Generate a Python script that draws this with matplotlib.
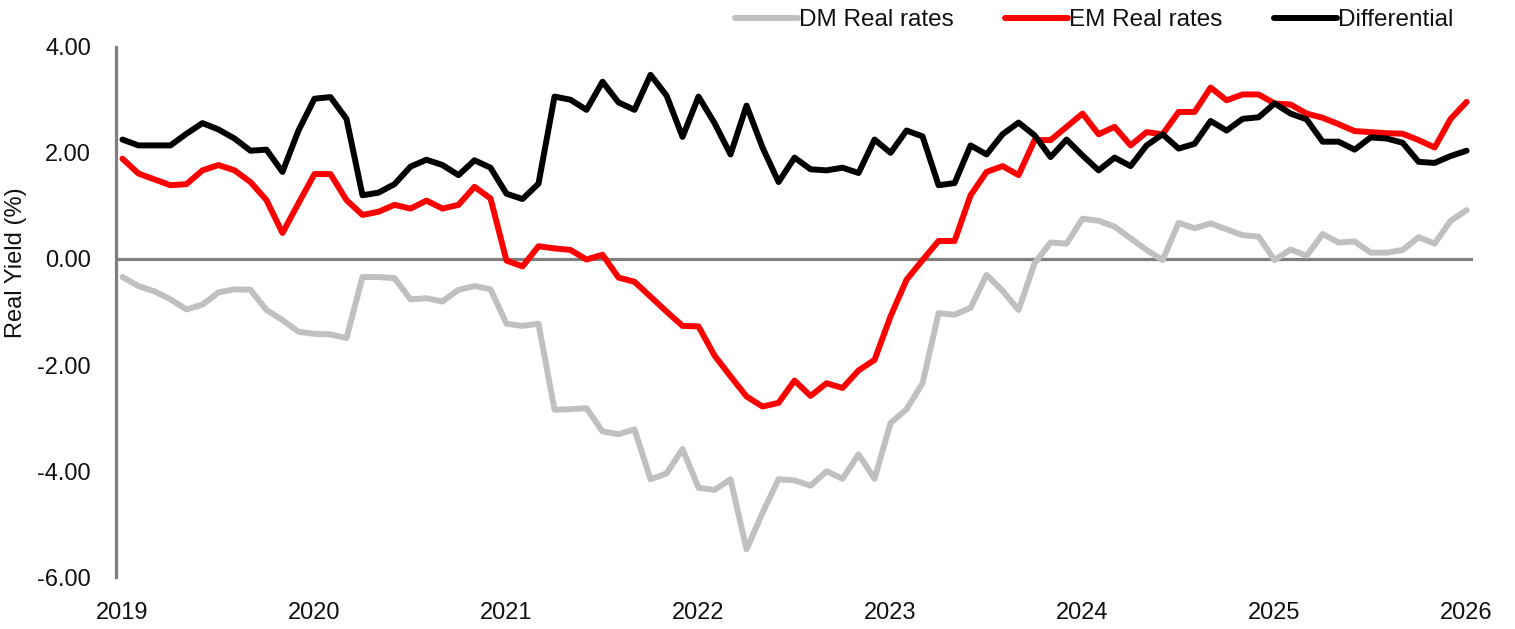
import numpy as np
import matplotlib
matplotlib.use("Agg")
import matplotlib.pyplot as plt

# ---- data (monthly, Jan 2019 .. Jan 2026) ----
years = ["2019", "2020", "2021", "2022", "2023", "2024", "2025", "2026"]

dm_real = [-0.34, -0.51, -0.61, -0.76, -0.95, -0.86, -0.63, -0.57, -0.58, -0.96,
           -1.15, -1.37, -1.41, -1.42, -1.49, -0.34, -0.34, -0.36, -0.76, -0.74,
           -0.80, -0.58, -0.51, -0.57, -1.22, -1.26, -1.22, -2.84, -2.83, -2.81,
           -3.25, -3.30, -3.21, -4.15, -4.04, -3.58, -4.31, -4.35, -4.15, -5.47,
           -4.78, -4.15, -4.17, -4.27, -4.00, -4.14, -3.68, -4.14, -3.09, -2.83,
           -2.34, -1.02, -1.05, -0.92, -0.30, -0.60, -0.96, -0.08, 0.31, 0.29,
           0.76, 0.72, 0.61, 0.39, 0.17, -0.02, 0.68, 0.58, 0.67, 0.56,
           0.45, 0.42, -0.02, 0.18, 0.06, 0.47, 0.31, 0.33, 0.12, 0.12,
           0.17, 0.41, 0.29, 0.72, 0.92]

em_real = [1.89, 1.61, 1.50, 1.39, 1.41, 1.67, 1.77, 1.67, 1.45, 1.11,
           0.49, 1.05, 1.60, 1.60, 1.11, 0.83, 0.89, 1.02, 0.95, 1.10,
           0.95, 1.02, 1.36, 1.14, -0.03, -0.14, 0.24, 0.20, 0.17, -0.01,
           0.08, -0.35, -0.43, -0.71, -0.99, -1.26, -1.27, -1.82, -2.21, -2.59,
           -2.78, -2.71, -2.29, -2.58, -2.34, -2.43, -2.10, -1.90, -1.08, -0.39,
           -0.02, 0.34, 0.34, 1.20, 1.64, 1.75, 1.58, 2.24, 2.24, 2.49,
           2.74, 2.35, 2.49, 2.14, 2.39, 2.35, 2.77, 2.77, 3.23, 2.99,
           3.10, 3.10, 2.93, 2.91, 2.74, 2.66, 2.54, 2.41, 2.39, 2.37,
           2.36, 2.24, 2.10, 2.64, 2.96]

differential = [2.25, 2.14, 2.14, 2.14, 2.36, 2.56, 2.44, 2.27, 2.04, 2.06,
                1.64, 2.42, 3.02, 3.05, 2.64, 1.20, 1.25, 1.41, 1.74, 1.87,
                1.77, 1.58, 1.86, 1.72, 1.23, 1.13, 1.42, 3.06, 3.00, 2.81,
                3.34, 2.95, 2.81, 3.47, 3.08, 2.30, 3.06, 2.56, 1.97, 2.89,
                2.10, 1.45, 1.91, 1.69, 1.67, 1.72, 1.62, 2.25, 2.00, 2.42,
                2.31, 1.39, 1.43, 2.14, 1.97, 2.35, 2.57, 2.33, 1.92, 2.25,
                1.95, 1.67, 1.91, 1.75, 2.14, 2.35, 2.08, 2.17, 2.60, 2.42,
                2.64, 2.67, 2.93, 2.74, 2.63, 2.21, 2.21, 2.06, 2.29, 2.27,
                2.19, 1.83, 1.81, 1.94, 2.04]

series_names = ["DM Real rates", "EM Real rates", "Differential"]
series_colors = ["#c0c0c0", "#ff0000", "#000000"]

# ---- figure ----
plt.rcParams["font.family"] = ["Liberation Sans", "DejaVu Sans"]
fig = plt.figure(figsize=(15.15, 6.29), dpi=100)
ax = fig.add_axes([0.0766, 0.0819, 0.9723 - 0.0766, 0.9258 - 0.0819])

x = np.arange(len(dm_real))
axis_grey = "#7f7f7f"
ax.axhline(0, color=axis_grey, lw=2.3, zorder=1)

handles = []
for vals, name, col in zip([dm_real, em_real, differential], series_names, series_colors):
    h, = ax.plot(x, vals, color=col, lw=4.3, label=name,
                 solid_joinstyle="round", solid_capstyle="round", zorder=2)
    handles.append(h)

ax.set_xlim(-0.4, 84.4)
ax.set_ylim(-6, 4)
ax.set_yticks([4, 2, 0, -2, -4, -6])
ax.set_yticklabels([f"{v:.2f}" for v in [4, 2, 0, -2, -4, -6]])
ax.set_xticks(np.arange(len(years)) * 12)
ax.set_xticklabels(years)

ax.tick_params(axis="y", length=0, pad=18, labelsize=17, labelcolor="#111111")
ax.tick_params(axis="x", length=0, pad=18, labelsize=17, labelcolor="#111111")

for s in ["top", "right", "bottom"]:
    ax.spines[s].set_visible(False)
ax.spines["left"].set_color(axis_grey)
ax.spines["left"].set_linewidth(2.3)

fig.text(16 / 1515, 1 - 263 / 629, "Real Yield (%)", rotation=90,
         ha="center", va="center", fontsize=17, color="#111111")

leg = fig.legend(handles=handles, loc="center", bbox_to_anchor=(0.7222, 0.968),
                 ncol=3, frameon=False, fontsize=17.5, handlelength=2.6,
                 handletextpad=0.05, columnspacing=2.1, borderpad=0,
                 borderaxespad=0)
for t in leg.get_texts():
    t.set_color("#111111")

fig.savefig("out.png", dpi=100, facecolor="white")
